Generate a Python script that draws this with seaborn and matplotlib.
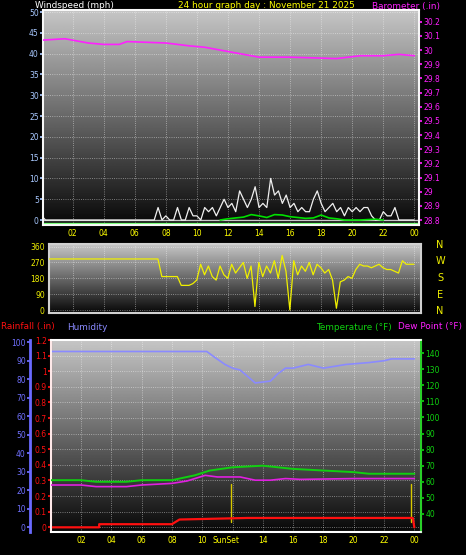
import matplotlib
matplotlib.use("Agg")
import matplotlib.pyplot as plt
import numpy as np
import seaborn as sns

sns.set_theme(style="dark")
plt.rcParams['font.family'] = ['DejaVu Sans']

# ---- data ----
hour_labels = ["02", "04", "06", "08", "10", "12", "14", "16", "18", "20", "22", "00"]

# gusts, every 15 min from 00:00
gust = [1, 0, 0, 0, 0, 0, 0, 0, 0, 0, 0, 0, 0, 0, 0, 0, 0, 0, 0, 0, 0, 0, 0, 0, 0, 0, 0, 0, 0, 0,
        3, 0, 1, 0, 0, 3, 0, 0, 3, 1, 1, 0, 3, 2, 3, 1, 3, 5, 3, 4, 2, 7, 5, 3, 5, 8, 3, 4, 3, 10,
        6, 7, 4, 6, 3, 4, 2, 3, 2, 2, 5, 7, 4, 2, 3, 4, 2, 3, 1, 3, 2, 3, 2, 3, 3, 1, 0, 0, 2, 1,
        1, 3, 0, 0, 0, 0, 0]
# average wind, every 30 min from 11:30
avg_wind = [0, 0.3, 0.5, 0.7, 1.3, 1.0, 0.6, 1.3, 1.2, 0.8, 0.6, 0.4, 0.5, 1.2, 0.5, 0.3, 0, 0, 0, 0.1, 0.2, 0]

baro_h = [0, 1.5, 3, 4, 5, 5.5, 8, 9.5, 10.5, 12, 13, 14, 16, 19, 20.5, 22, 23, 24]
baro = [30.07, 30.08, 30.05, 30.04, 30.04, 30.06, 30.05, 30.03, 30.02, 29.99, 29.97, 29.95, 29.95,
        29.94, 29.96, 29.96, 29.97, 29.96]

# wind direction, every 15 min from 00:00
wdir = [290] * 31 + [190, 190, 190, 190, 190, 140, 140, 140, 150, 170, 260, 200, 250, 190, 170, 250,
        200, 180, 260, 210, 240, 270, 180, 250, 20, 270, 190, 250, 210, 280, 180, 310, 220, 0, 280,
        200, 250, 220, 270, 200, 260, 240, 210, 230, 170, 10, 160, 170, 190, 180, 230, 260, 250,
        250, 240, 250, 260, 240, 230, 230, 220, 210, 280, 260, 260, 260]

hum_h = [0, 10.3, 10.8, 11.5, 12, 12.5, 13.5, 14.5, 15, 15.5, 16, 17, 18, 19.5, 21, 22, 22.5, 24]
hum = [95, 95, 92, 88, 86, 85, 78, 79, 83, 86, 86, 88, 86, 88, 89, 90, 91, 91]

temp_h = [0, 2, 3, 5, 6, 8, 8.5, 9.5, 10.5, 12, 14, 16, 18, 20, 21, 24]
temp = [61, 61, 60, 60, 61, 61, 62, 64, 67, 69, 70, 68, 67, 66, 65, 65]
dew_h = [0, 2, 3, 5, 6, 8, 9, 10.2, 11, 12.5, 13.5, 14.5, 15.5, 16.5, 20, 24]
dew = [58, 58, 57, 57, 58, 59, 60.5, 64, 63, 63, 61, 61, 62, 61.5, 62, 62]

rain_h = [0, 3.2, 3.2, 8, 8.5, 13, 23.9, 24]
rain = [0, 0, 0.02, 0.02, 0.05, 0.06, 0.06, 0]

sun_h = [11.9, 23.8]

# ---- figure ----
fig = plt.figure(figsize=(4.66, 5.55), dpi=100, facecolor="black")
W, H = 466, 555


def box(l, t, r, b):
    return [l / W, 1 - b / H, (r - l) / W, (b - t) / H]


def style(ax):
    ax.set_facecolor("black")
    grad = np.linspace(0.78, 0.03, 256).reshape(-1, 1)
    ax.imshow(grad, cmap="gray", vmin=0, vmax=1, aspect="auto", extent=[0, 1, 0, 1],
              transform=ax.transAxes, zorder=0)
    for s in ax.spines.values():
        s.set_color("#d0d0d0")
        s.set_linewidth(1.5)
    ax.grid(True, color="white", linestyle=":", linewidth=0.6, alpha=0.55)
    ax.set_xticks(range(2, 25, 2))
    ax.set_xticks(np.arange(0, 24.5, 0.5), minor=True)
    ax.tick_params(axis="x", which="both", colors="yellow", labelsize=5.5, length=2, pad=1)


# top panel
ax1 = fig.add_axes(box(43, 10, 419, 225))
style(ax1)
x15 = np.arange(len(gust)) * 0.25
ax1.plot(x15, gust, color="#f0f0f0", lw=0.9, zorder=3)
ax1.axhline(0, color="#c8c8c8", lw=1, zorder=2)
xa = 11.5 + np.arange(len(avg_wind)) * 0.5
ax1.plot(xa, avg_wind, color="#00e000", lw=1.2, zorder=4)
ax1.axhline(-0.8, color="#80ff80", lw=1, zorder=4)
ax1.set_xlim(0.09, 24.3)
ax1.set_ylim(-1.2, 50.5)
ax1.set_yticks(range(0, 51, 5))
ax1.set_xticklabels(hour_labels)
ax1.tick_params(axis="y", colors="#a8c8ff", labelsize=5.5, length=2, pad=1)
ax1b = ax1.twinx()
ax1b.plot(baro_h, baro, color="#ff20ff", lw=1.2, zorder=5)
ax1b.set_ylim(28.765, 30.283)
bt = np.round(np.arange(28.8, 30.21, 0.1), 1)
ax1b.set_yticks(bt)
ax1b.set_yticklabels([f"{v:g}" for v in bt])
ax1b.tick_params(axis="y", colors="#ff20ff", labelsize=5.5, length=2, pad=1)
ax1b.grid(False)

# wind direction panel
ax2 = fig.add_axes(box(49, 244, 421, 313))
style(ax2)
ax2.plot(np.arange(len(wdir)) * 0.25, wdir, color="#f0f000", lw=0.9, zorder=3)
ax2.set_xlim(0.48, 24.45)
ax2.set_ylim(-17, 375)
ax2.set_yticks([0, 90, 180, 270, 360])
ax2.set_xticklabels([])
ax2.tick_params(axis="x", which="both", length=0)
ax2.tick_params(axis="y", colors="#f0f000", labelsize=5.5, length=2, pad=1)
for lab, y in zip("NWSEN", [245, 261, 278, 295, 311]):
    fig.text(440 / W, 1 - y / H, lab, color="#f0f000", fontsize=7, ha="center", va="center")

# bottom panel
ax3 = fig.add_axes(box(51, 340, 421, 532))
style(ax3)
ax3.plot(rain_h, rain, color="#ff1010", lw=1.6, zorder=4)
for s in sun_h:
    ax3.axvline(s, ymin=0.05, ymax=0.25, color="#d8c800", lw=1, zorder=3)
ax3.set_xlim(0.02, 24.44)
ax3.set_ylim(-0.030, 1.20)
rt = np.round(np.arange(0, 1.21, 0.1), 1)
ax3.set_yticks(rt)
ax3.set_yticklabels([f"{v:g}" for v in rt])
ax3.set_xticklabels([("" if l == "12" else l) for l in hour_labels])
ax3.tick_params(axis="y", colors="#ff1010", labelsize=5.5, length=2, pad=1)
ax3.spines["left"].set_color("#ff6060")
ax3.text(11.6, -0.058, "SunSet", color="yellow", fontsize=5.5, ha="center", va="top")

ax3h = ax3.twinx()
ax3h.plot(hum_h, hum, color="#8a8aff", lw=1.2, zorder=5)
ax3h.set_ylim(-2.5, 101.2)
ax3h.set_yticks(range(0, 101, 10))
ax3h.yaxis.set_ticks_position("left")
ax3h.spines["left"].set_position(("axes", -21 / 370))
ax3h.spines["left"].set_color("#6a6aff")
ax3h.spines["left"].set_linewidth(2)
ax3h.spines["right"].set_visible(False)
ax3h.tick_params(axis="y", colors="#7070ff", labelsize=5.5, length=2, pad=1)
ax3h.grid(False)

ax3t = ax3.twinx()
ax3t.plot(temp_h, temp, color="#10d010", lw=1.4, zorder=5)
ax3t.plot(dew_h, dew, color="#e020e0", lw=1.2, zorder=5)
ax3t.set_ylim(28.8, 148.1)
ax3t.set_yticks(range(40, 141, 10))
ax3t.spines["right"].set_color("#10d010")
ax3t.tick_params(axis="y", colors="#10d010", labelsize=5.5, length=2, pad=1)
ax3t.grid(False)

# headers
hf = 6.4
fig.text(35 / W, 1 - 6 / H, "Windspeed (mph)", color="white", fontsize=hf, va="center")
fig.text(266 / W, 1 - 6 / H, "24 hour graph day : November 21 2025", color="yellow", fontsize=hf,
         ha="center", va="center")
fig.text(440 / W, 1 - 6 / H, "Barometer (.in)", color="#ff20ff", fontsize=hf, ha="right", va="center")
fig.text(1 / W, 1 - 327 / H, "Rainfall (.in)", color="#ff1010", fontsize=hf, va="center")
fig.text(67 / W, 1 - 327 / H, "Humidity", color="#8a8aff", fontsize=hf, va="center")
fig.text(392 / W, 1 - 327 / H, "Temperature (°F)", color="#10d010", fontsize=hf, ha="right", va="center")
fig.text(462 / W, 1 - 327 / H, "Dew Point (°F)", color="#ff20ff", fontsize=hf, ha="right", va="center")

fig.savefig("out.png", dpi=100, facecolor="black")
